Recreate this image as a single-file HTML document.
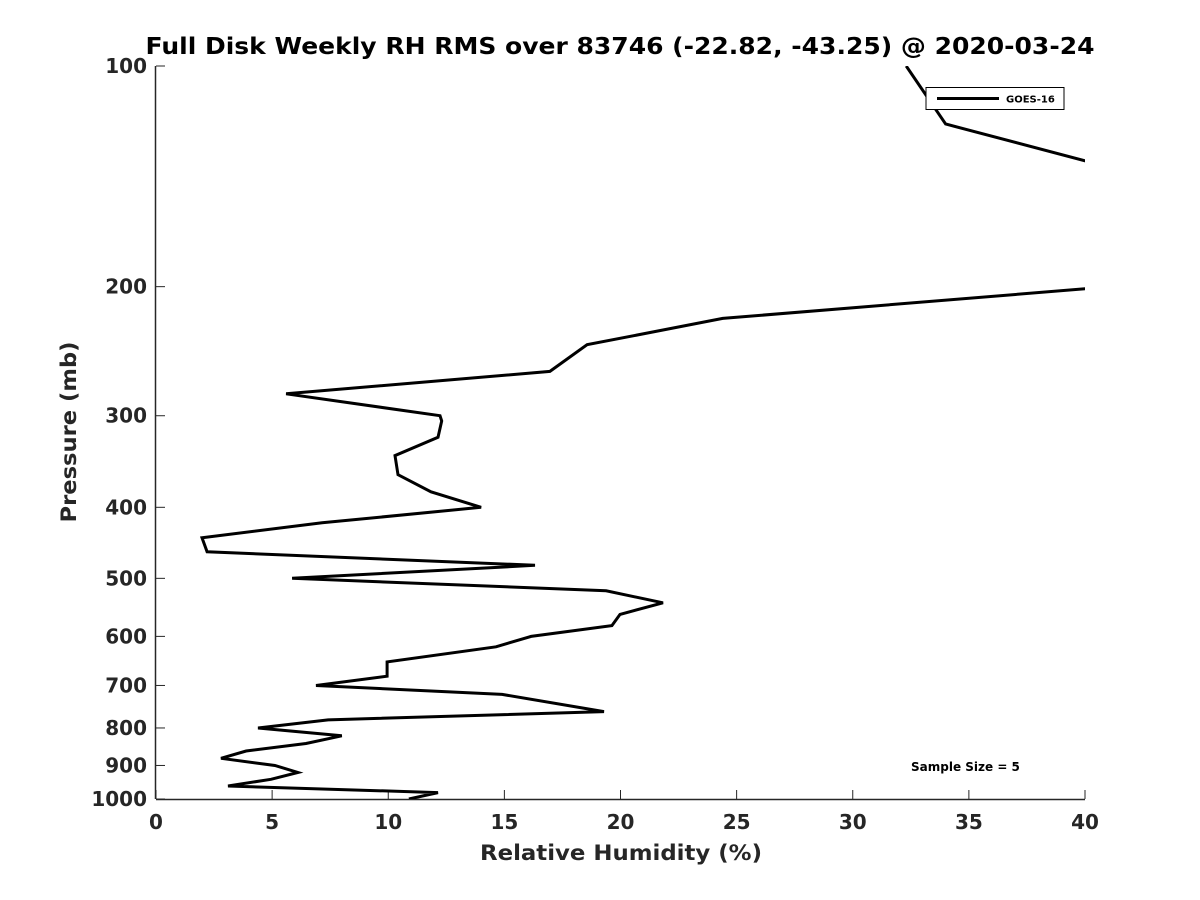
<!DOCTYPE html>
<html><head><meta charset="utf-8"><style>
body{margin:0;background:#fff;}
svg{display:block;font-family:"DejaVu Sans","Liberation Sans",sans-serif;}
</style></head><body>
<svg id="chart" width="1200" height="900" viewBox="0 0 1200 900">
<rect width="1200" height="900" fill="#fff"/>
<text x="620" y="54" text-anchor="middle" font-size="23" font-weight="bold" fill="#000" textLength="949" lengthAdjust="spacingAndGlyphs">Full Disk Weekly RH RMS over 83746 (-22.82, -43.25) @ 2020-03-24</text>
<defs><clipPath id="plotclip"><rect x="156" y="66" width="929" height="733"/></clipPath></defs>
<g id="axes"></g>
<g id="series" clip-path="url(#plotclip)"></g>
<g>
<rect x="926" y="87.5" width="138" height="22" fill="#fff" stroke="#000" stroke-width="1"/>
<line x1="937" y1="98.5" x2="999" y2="98.5" stroke="#000" stroke-width="3"/>
<text x="1006" y="102.5" font-size="10" font-weight="bold" fill="#000">GOES-16</text>
</g>
<text x="911" y="771" font-size="12" font-weight="bold" fill="#000">Sample Size = 5</text>
<text x="621" y="860" text-anchor="middle" font-size="21" font-weight="bold" fill="#262626" textLength="282" lengthAdjust="spacingAndGlyphs">Relative Humidity (%)</text>
<text transform="translate(76,432) rotate(-90)" text-anchor="middle" font-size="21" font-weight="bold" fill="#262626" textLength="181" lengthAdjust="spacingAndGlyphs">Pressure (mb)</text>
</svg>
<script>
const pressures=[100,120,150,200,221,240,261,280,300,305,321,340,361,381,400,420,440,460,480,500,520,540,560,580,600,620,650,680,700,720,760,780,800,820,840,860,880,900,920,940,960,980,1000];
const rhValues=[32.3,34.0,45.6,41.1,24.4,18.56,16.96,5.6,12.23,12.3,12.14,10.29,10.42,11.84,14.0,7.15,1.98,2.2,16.32,5.86,19.38,21.83,19.98,19.63,16.15,14.64,9.95,9.95,6.89,14.9,19.29,7.41,4.39,8.0,6.46,3.88,2.8,5.12,6.11,4.95,3.1,12.14,10.89];
const xTicks=[0,5,10,15,20,25,30,35,40];
const yTicks=[100,200,300,400,500,600,700,800,900,1000];
const X0=156,X1=1085,Y0=66,Y1=799;
const xs=v=>X0+(v-0)/(40-0)*(X1-X0);
const ys=p=>Y0+(Math.log10(p)-2)/(3-2)*(Y1-Y0);
const NS="http://www.w3.org/2000/svg";
const axes=document.getElementById('axes');
function mk(tag,attrs,parent){const e=document.createElementNS(NS,tag);for(const k in attrs)e.setAttribute(k,attrs[k]);parent.appendChild(e);return e;}
const xa=mk('line',{x1:X0,y1:Y1+0.5,x2:X1,y2:Y1+0.5,stroke:'#262626','stroke-width':1.5},axes);


const ya=mk('line',{x1:X0-0.5,y1:Y0,x2:X0-0.5,y2:Y1,stroke:'#262626','stroke-width':1.5},axes);


xTicks.forEach(v=>{
  const x=xs(v);
  mk('line',{x1:x,y1:Y1,x2:x,y2:Y1-9,stroke:'#262626','stroke-width':1},axes);
  const t=mk('text',{x:x,y:Y1+30,'text-anchor':'middle','font-size':20,'font-weight':'bold',fill:'#262626'},axes);
  t.textContent=v;
  
  
});
yTicks.forEach(p=>{
  const y=ys(p);
  mk('line',{x1:X0,y1:y,x2:X0+9,y2:y,stroke:'#262626','stroke-width':1},axes);
  const t=mk('text',{x:X0-9,y:y+7,'text-anchor':'end','font-size':20,'font-weight':'bold',fill:'#262626'},axes);
  t.textContent=p;
  
  
});
const pts=pressures.map((p,i)=>xs(rhValues[i]).toFixed(1)+','+ys(p).toFixed(1)).join(' ');
const line=mk('polyline',{points:pts,fill:'none',stroke:'#000','stroke-width':3,'stroke-linejoin':'miter'},document.getElementById('series'));


</script>
</body></html>
